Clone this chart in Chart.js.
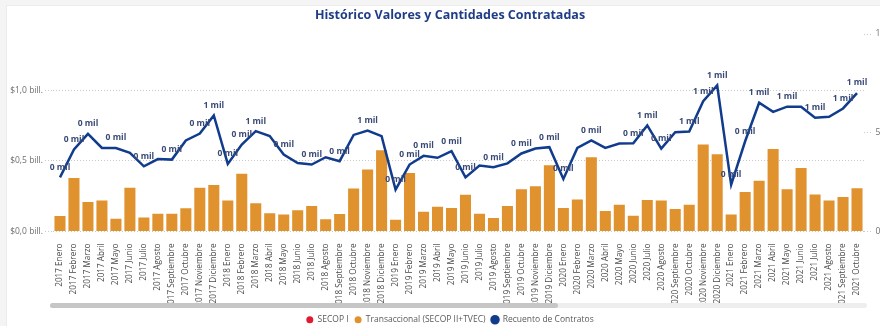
<!DOCTYPE html>
<html lang="es">
<head>
<meta charset="utf-8">
<title>Histórico Valores y Cantidades Contratadas</title>
<script src="https://cdn.jsdelivr.net/npm/chart.js@4.4.1/dist/chart.umd.min.js"></script>
<style>
  html, body { margin: 0; padding: 0; background: #ffffff; }
  #frame { position: relative; width: 880px; height: 326px; overflow: hidden; background: #f4f4f4; }
  #card { position: absolute; left: 6px; top: 5px; width: 900px; height: 340px; background: #ffffff; border: 1px solid #ececec; }
  #chart { position: absolute; left: 0; top: 0; }
  .track { position: absolute; left: 50px; top: 303px; width: 817px; height: 5px; border-radius: 3px; background: #eeeeee; }
  .thumb { position: absolute; left: 50px; top: 303px; width: 508px; height: 5px; border-radius: 3px; background: #c6c6c6; }
</style>
</head>
<body>
<div id="frame">
  <div id="card"></div>
  <canvas id="chart" width="900" height="334"></canvas>
  <div class="track"></div>
  <div class="thumb"></div>
</div>
<script>
// Months on the category axis
const months = [
  '2017 Enero','2017 Febrero','2017 Marzo','2017 Abril','2017 Mayo','2017 Junio',
  '2017 Julio','2017 Agosto','2017 Septiembre','2017 Octubre','2017 Noviembre','2017 Diciembre',
  '2018 Enero','2018 Febrero','2018 Marzo','2018 Abril','2018 Mayo','2018 Junio',
  '2018 Julio','2018 Agosto','2018 Septiembre','2018 Octubre','2018 Noviembre','2018 Diciembre',
  '2019 Enero','2019 Febrero','2019 Marzo','2019 Abril','2019 Mayo','2019 Junio',
  '2019 Julio','2019 Agosto','2019 Septiembre','2019 Octubre','2019 Noviembre','2019 Diciembre',
  '2020 Enero','2020 Febrero','2020 Marzo','2020 Abril','2020 Mayo','2020 Junio',
  '2020 Julio','2020 Agosto','2020 Septiembre','2020 Octubre','2020 Noviembre','2020 Diciembre',
  '2021 Enero','2021 Febrero','2021 Marzo','2021 Abril','2021 Mayo','2021 Junio',
  '2021 Julio','2021 Agosto','2021 Septiembre','2021 Octubre'
];

// Contracted value, SECOP I (billones de pesos) – no records in the period
const secopI = [];

// Contracted value, Transaccional (SECOP II+TVEC), billones de pesos
const transaccional = [
  0.11, 0.38, 0.21, 0.22, 0.09, 0.31, 0.10, 0.125, 0.125, 0.165,
  0.31, 0.33, 0.22, 0.41, 0.20, 0.13, 0.12, 0.15, 0.18, 0.086,
  0.124, 0.305, 0.44, 0.576, 0.084, 0.414, 0.14, 0.176, 0.167, 0.26,
  0.126, 0.095, 0.18, 0.30, 0.32, 0.47, 0.167, 0.226, 0.526, 0.145,
  0.19, 0.112, 0.224, 0.22, 0.16, 0.19, 0.617, 0.548, 0.12, 0.28,
  0.36, 0.584, 0.30, 0.45, 0.262, 0.22, 0.245, 0.307
];

// Number of contracts per month
const contratos = [
  274, 415, 494, 423, 423, 398, 330, 367, 364, 461,
  496, 588, 342, 440, 508, 483, 390, 347, 339, 376,
  356, 489, 511, 483, 212, 339, 383, 373, 407, 274,
  334, 325, 345, 395, 420, 427, 266, 423, 461, 423,
  445, 447, 537, 420, 503, 506, 660, 740, 237, 457,
  652, 606, 632, 632, 576, 581, 623, 701
];

// Months whose contract count is written above the line
const labelledPoints = [
  0, 1, 2, 4, 6, 8, 10, 11, 12, 13, 14, 16, 18, 20, 22, 24, 25, 26, 28, 29,
  31, 33, 35, 36, 38, 41, 42, 43, 45, 46, 47, 48, 49, 50, 52, 54, 56, 57
];

// Axis ticks
const valueTicks = [0, 0.5, 1.0];
const countTicks = [0, 500, 1000];

const FONT = '"Open Sans", "Noto Sans", sans-serif';
Chart.defaults.font.family = FONT;

const fmtBill = v => '$' + v.toFixed(1).replace('.', ',') + ' bill.';
const fmtCount = v => String(v).replace(/\B(?=(\d{3})+(?!\d))/g, '.');
const fmtMil = v => Math.round(v / 1000) + ' mil';

// Writes "n mil" above the chosen points of the contract line
const lineLabels = {
  id: 'lineLabels',
  afterDatasetsDraw(chart) {
    const meta = chart.getDatasetMeta(2);
    const ctx = chart.ctx;
    ctx.save();
    ctx.font = 'bold 8.5px ' + FONT;
    ctx.fillStyle = '#3a4a76';
    ctx.textAlign = 'center';
    ctx.textBaseline = 'middle';
    labelledPoints.forEach(i => {
      const p = meta.data[i];
      if (p) ctx.fillText(fmtMil(contratos[i]), p.x, p.y - 10);
    });
    ctx.restore();
  }
};

new Chart(document.getElementById('chart'), {
  data: {
    labels: months,
    datasets: [
      {
        type: 'bar', label: 'SECOP I', data: secopI,
        backgroundColor: '#e3192f', borderWidth: 0,
        yAxisID: 'y', grouped: false, order: 1,
        barPercentage: 0.79, categoryPercentage: 1
      },
      {
        type: 'bar', label: 'Transaccional (SECOP II+TVEC)', data: transaccional,
        backgroundColor: '#df922e', borderWidth: 0,
        yAxisID: 'y', grouped: false, order: 1,
        barPercentage: 0.79, categoryPercentage: 1
      },
      {
        type: 'line', label: 'Recuento de Contratos', data: contratos,
        borderColor: '#113c8e', backgroundColor: '#113c8e', borderWidth: 2.5,
        pointRadius: 0, tension: 0, yAxisID: 'y1', order: 0
      }
    ]
  },
  options: {
    responsive: false,
    animation: false,
    layout: { padding: 0 },
    plugins: {
      title: {
        display: true,
        text: 'Histórico Valores y Cantidades Contratadas',
        color: '#1f3d87',
        font: { family: FONT, size: 12.5, weight: 'bold' },
        padding: { top: 8, bottom: 11 }
      },
      legend: {
        position: 'bottom',
        labels: {
          usePointStyle: true, pointStyle: 'circle',
          pointStyleWidth: 7, boxHeight: 5,
          color: '#5a5a5a', font: { family: FONT, size: 8.5 }, padding: 6,
          sort: (a, b) => a.datasetIndex - b.datasetIndex
        }
      },
      tooltip: { enabled: false }
    },
    scales: {
      x: {
        grid: { display: false },
        border: { display: false },
        ticks: {
          autoSkip: false, minRotation: 90, maxRotation: 90,
          color: '#4a4a4a', font: { size: 8.2 }, padding: 4
        },
        afterFit(s) { s.height = 78; }
      },
      y: {
        position: 'left', min: 0, max: 1.4,
        afterBuildTicks(s) { s.ticks = valueTicks.map(v => ({ value: v })); },
        ticks: { callback: v => fmtBill(v), color: '#6f6f6f', font: { size: 8.5 }, padding: 2 },
        grid: { color: '#c9c9c9', lineWidth: 1, tickLength: 8, tickColor: '#c9c9c9', tickBorderDash: [1, 2] },
        border: { display: false, dash: [1, 2] },
        afterFit(s) { s.width = 53; }
      },
      y1: {
        position: 'right', min: 0, max: 1000,
        afterBuildTicks(s) { s.ticks = countTicks.map(v => ({ value: v })); },
        ticks: { callback: v => fmtCount(v), color: '#6f6f6f', font: { size: 8.5 }, padding: 3.5 },
        grid: { drawOnChartArea: false, tickLength: 8, tickColor: '#c9c9c9', tickBorderDash: [1, 2] },
        border: { display: false },
        afterFit(s) { s.width = 36; }
      }
    }
  },
  plugins: [lineLabels]
});
</script>
</body>
</html>
